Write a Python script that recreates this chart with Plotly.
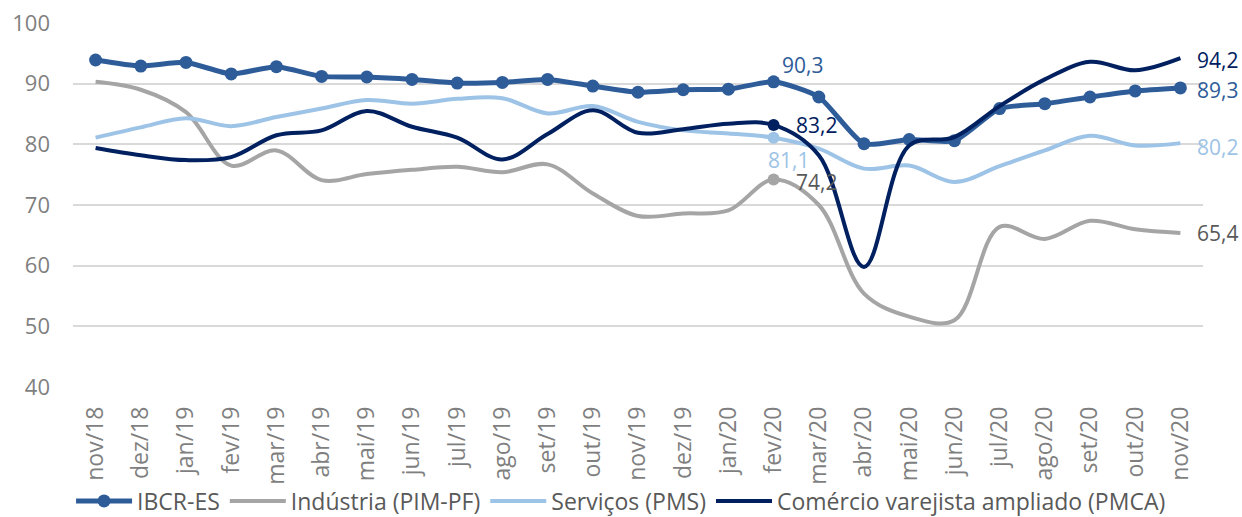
import plotly.graph_objects as go

months = ["nov/18", "dez/18", "jan/19", "fev/19", "mar/19", "abr/19", "mai/19", "jun/19",
          "jul/19", "ago/19", "set/19", "out/19", "nov/19", "dez/19", "jan/20", "fev/20",
          "mar/20", "abr/20", "mai/20", "jun/20", "jul/20", "ago/20", "set/20", "out/20", "nov/20"]

ibcr = [93.9, 92.9, 93.5, 91.6, 92.8, 91.2, 91.1, 90.7, 90.1, 90.2, 90.7, 89.6, 88.6,
        89.0, 89.1, 90.3, 87.8, 80.1, 80.8, 80.6, 85.9, 86.7, 87.8, 88.8, 89.3]
industria = [90.3, 89.0, 85.3, 76.5, 79.0, 74.1, 75.1, 75.8, 76.3, 75.4, 76.7, 71.9, 68.2,
             68.6, 69.1, 74.2, 70.0, 55.4, 51.6, 51.0, 66.4, 64.4, 67.4, 66.0, 65.4]
servicos = [81.1, 82.8, 84.3, 83.0, 84.5, 85.9, 87.3, 86.7, 87.5, 87.6, 85.1, 86.3, 83.7,
            82.3, 81.8, 81.1, 79.3, 76.0, 76.5, 73.8, 76.4, 79.0, 81.4, 79.8, 80.2]
comercio = [79.4, 78.2, 77.4, 77.9, 81.5, 82.3, 85.5, 82.9, 81.1, 77.5, 81.7, 85.6, 81.9,
            82.5, 83.4, 83.2, 78.2, 59.8, 79.8, 81.2, 86.3, 90.7, 93.6, 92.2, 94.2]

BLUE, GREY, LIGHT, NAVY = "#2E5C99", "#A5A5A5", "#9DC3E6", "#002060"
LABEL_GREY = "#595959"
TICK_GREY = "#7F7F7F"
FONT = "Open Sans"

def fmt(v):
    return f"{v:.1f}".replace(".", ",")

fig = go.Figure()

fig.add_trace(go.Scatter(x=months, y=ibcr, name="IBCR-ES", mode="lines+markers",
                         line=dict(color=BLUE, width=5, shape="spline", smoothing=0.6),
                         marker=dict(size=13, color=BLUE)))
fig.add_trace(go.Scatter(x=months, y=industria, name="Indústria (PIM-PF)", mode="lines",
                         line=dict(color=GREY, width=4, shape="spline")))
fig.add_trace(go.Scatter(x=months, y=servicos, name="Serviços (PMS)", mode="lines",
                         line=dict(color=LIGHT, width=4, shape="spline")))
fig.add_trace(go.Scatter(x=months, y=comercio, name="Comércio varejista ampliado (PMCA)", mode="lines",
                         line=dict(color=NAVY, width=4, shape="spline")))

# marked points at fev/20
k = months.index("fev/20")
for vals, col in [(industria, GREY), (servicos, LIGHT), (comercio, NAVY)]:
    fig.add_trace(go.Scatter(x=[months[k]], y=[vals[k]], mode="markers", showlegend=False,
                             marker=dict(size=12, color=col), hoverinfo="skip"))

# data labels
ann = []
def lab(i, vals, color, xanchor, xshift, yshift):
    ann.append(dict(x=months[i], y=vals[i], text=fmt(vals[i]), showarrow=False,
                    xanchor=xanchor, yanchor="middle", xshift=xshift, yshift=yshift,
                    font=dict(family=FONT, size=21, color=color)))

lab(k, ibcr, BLUE, "left", 6, 17)
lab(k, comercio, NAVY, "left", 20, 0)
lab(k, servicos, LIGHT, "center", 15, -22)
lab(k, industria, LABEL_GREY, "left", 20, -2)
n = len(months) - 1
lab(n, comercio, NAVY, "left", 15, -2)
lab(n, ibcr, BLUE, "left", 15, -2)
lab(n, servicos, LIGHT, "left", 15, -4)
lab(n, industria, LABEL_GREY, "left", 15, 0)

fig.update_layout(
    width=1242, height=517,
    margin=dict(l=73, r=39, t=23, b=130, autoexpand=False),
    paper_bgcolor="white", plot_bgcolor="white",
    font=dict(family=FONT, size=21, color=LABEL_GREY),
    annotations=ann,
    showlegend=True,
    legend=dict(orientation="h", x=0.485, xanchor="center", y=-0.313, yanchor="middle",
                font=dict(family=FONT, size=23, color=LABEL_GREY), itemwidth=56,
                bgcolor="rgba(0,0,0,0)"),
)
fig.update_xaxes(type="category", categoryorder="array", categoryarray=months,
                 range=[-0.5, len(months) - 0.5], tickangle=-90, showgrid=False,
                 showline=False, zeroline=False, ticks="", ticklabelstandoff=14,
                 automargin=False, tickfont=dict(family=FONT, size=23, color=TICK_GREY))
fig.update_yaxes(range=[40, 100], dtick=10, showgrid=True, gridcolor="#D9D9D9", gridwidth=1.5,
                 showline=False, zeroline=False, ticks="", ticklabelstandoff=22,
                 automargin=False, tickfont=dict(family=FONT, size=22, color=TICK_GREY))

fig.write_html("out.html", config={"displayModeBar": False},
               post_script="document.body.style.margin='0';")
